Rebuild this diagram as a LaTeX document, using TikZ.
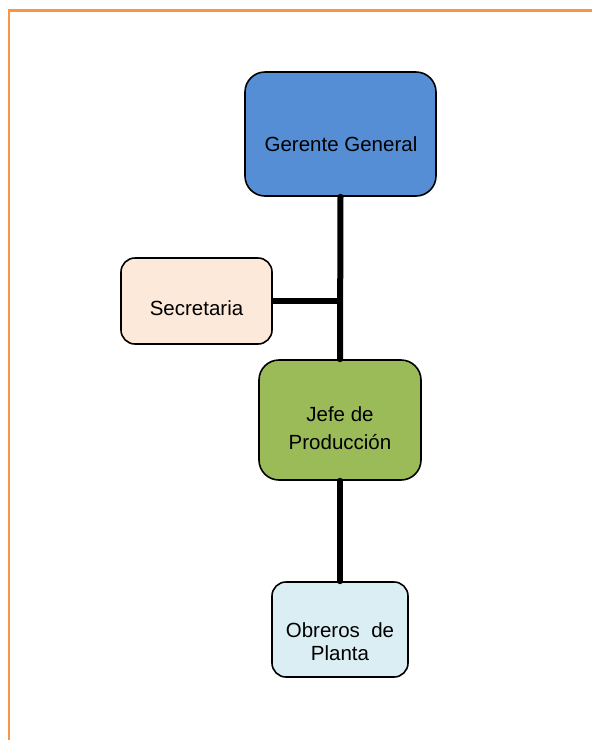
\documentclass[tikz,border=0pt]{standalone}
\usepackage{fontspec}
\setmainfont{Liberation Sans}
\definecolor{frameorange}{HTML}{F79646}
\definecolor{ggblue}{HTML}{558ED5}
\definecolor{secpeach}{HTML}{FDE9D9}
\definecolor{jefegreen}{HTML}{9BBB59}
\definecolor{obrblue}{HTML}{DBEEF4}
\tikzset{
  orgbox/.style={draw=black, line width=1.6pt, rounded corners=#1, inner sep=0pt},
  orgbox/.default=18pt,
  lbl/.style={anchor=base, inner sep=0pt, font=\fontsize{20.5}{24}\selectfont},
  link/.style={line width=6pt, line cap=round}
}
\begin{document}
\begin{tikzpicture}[x=1pt,y=-1pt]
\useasboundingbox (0,0) rectangle (592,740);
% frame
\draw[frameorange, line width=2.2pt] (9,740) -- (9,10.5) -- (592,10.5);
% boxes
\node[orgbox=20pt, fill=ggblue, minimum width=191pt, minimum height=124pt] (gg) at (340.5,134) {};
\node[orgbox=14pt, fill=secpeach, minimum width=151pt, minimum height=86pt] (sec) at (196.5,301) {};
\node[orgbox=20pt, fill=jefegreen, minimum width=162pt, minimum height=120pt] (jefe) at (340,420) {};
\node[orgbox=14pt, fill=obrblue, minimum width=136pt, minimum height=95pt] (obr) at (340,629.5) {};
% connectors
\coordinate (junc) at (gg.south |- sec.east);
\draw[link] (gg.south) -- (jefe.north);
\draw[link, line cap=butt] (sec.east) -- (junc);
\draw[link] (jefe.south) -- (obr.north);
% texts
\node[lbl] (ggt) at (341,151) {Gerente General};
\node[lbl] (sect) at (196.5,315) {Secretaria};
\node[lbl] (jefet1) at (340,421.7) {Jefe de};
\node[lbl] (jefet2) at (340,449.3) {Producción};
\node[lbl] (obrt1) at (340,637.7) {Obreros\ \ de};
\node[lbl] (obrt2) at (340,660.7) {Planta};
\end{tikzpicture}
\end{document}
